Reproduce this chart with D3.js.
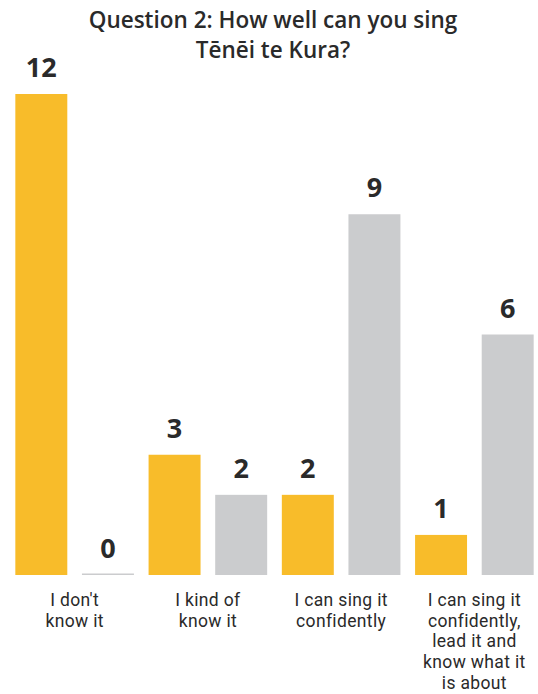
<!DOCTYPE html>
<html><head><meta charset="utf-8">
<script src="https://cdn.jsdelivr.net/npm/d3@7"></script>
<style>body{margin:0;background:#fff}svg{display:block}</style>
</head><body>
<svg id="c" width="538" height="694"></svg>
<script>
const titleLines = ["Question 2: How well can you sing", "Tēnēi te Kura?"];
const categories = ["I don't know it", "I kind of know it", "I can sing it confidently", "I can sing it confidently, lead it and know what it is about"];
const categoryLines = [["I don't", "know it"], ["I kind of", "know it"], ["I can sing it", "confidently"], ["I can sing it", "confidently,", "lead it and", "know what it", "is about"]];
const seriesNames = ["A", "B"];
const seriesA = [12, 3, 2, 1];
const seriesB = [0, 2, 9, 6];
const colors = ["#F8BC2A", "#CBCCCE"];

const svg = d3.select("#c");
const font = "'Open Sans', sans-serif";
const labelFont = "Roboto, sans-serif";
const baseY = 575, topY = 94;

const x0 = d3.scaleBand().domain(categories).range([8, 541]);
const x1 = d3.scaleBand().domain(seriesNames).range([0, x0.bandwidth()]).paddingInner(0.22).paddingOuter(0.11);
const y = d3.scaleLinear().domain([0, 12]).range([baseY, topY]);

const series = [seriesA, seriesB];
const rows = [];
categories.forEach((c, i) => seriesNames.forEach((s, j) => rows.push({c, s, j, v: series[j][i]})));

svg.append("g").selectAll("rect").data(rows).join("rect")
  .attr("x", d => x0(d.c) + x1(d.s))
  .attr("width", x1.bandwidth())
  .attr("y", d => d.v === 0 ? baseY - 1.5 : y(d.v))
  .attr("height", d => d.v === 0 ? 1.5 : y(0) - y(d.v))
  .attr("fill", d => colors[d.j]);

svg.append("g").selectAll("text").data(rows).join("text")
  .attr("x", d => x0(d.c) + x1(d.s) + x1.bandwidth() / 2)
  .attr("y", d => y(d.v) - 17)
  .attr("text-anchor", "middle")
  .attr("font-family", font).attr("font-weight", 700).attr("font-size", 27)
  .attr("fill", "#2a2a2a")
  .text(d => d.v);

const labRows = [];
categories.forEach((c, i) => categoryLines[i].forEach((t, k) => labRows.push({c, t, k})));
svg.append("g").selectAll("text").data(labRows).join("text")
  .attr("x", d => x0(d.c) + x0.bandwidth() / 2)
  .attr("y", d => 606 + d.k * 20.7)
  .attr("text-anchor", "middle")
  .attr("font-family", labelFont).attr("font-size", 17.5)
  .attr("letter-spacing", 0.35)
  .attr("fill", "#2a2a2a")
  .text(d => d.t);

svg.append("g").selectAll("text").data(titleLines).join("text")
  .attr("x", 273).attr("y", (d, i) => 28 + i * 30)
  .attr("text-anchor", "middle")
  .attr("font-family", font).attr("font-weight", 600).attr("font-size", 22.5)
  .attr("fill", "#2a2a2a")
  .text(d => d);
</script>
</body></html>
